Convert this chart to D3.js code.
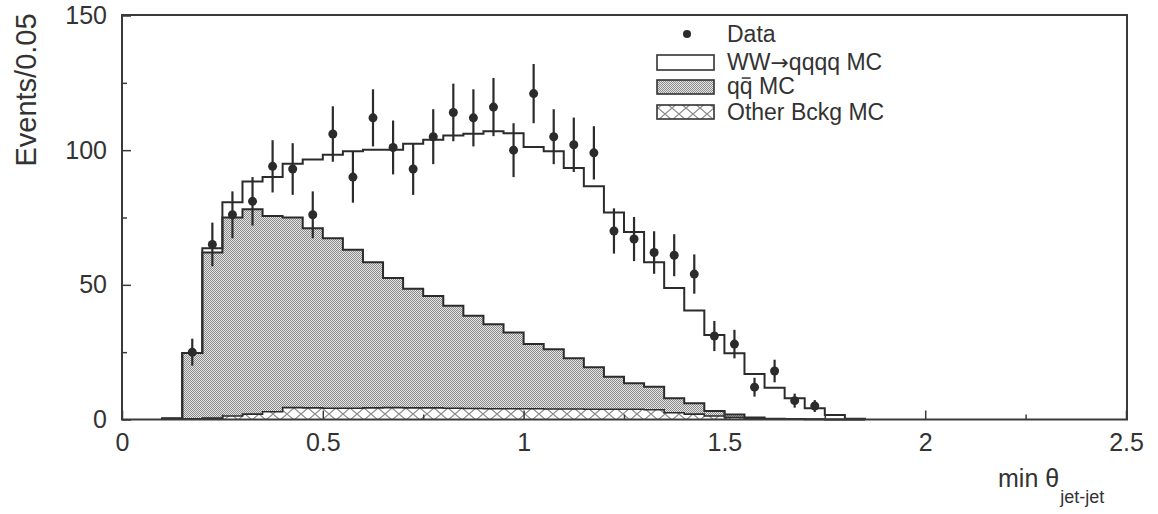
<!DOCTYPE html>
<html>
<head>
<meta charset="utf-8">
<script src="https://cdn.jsdelivr.net/npm/d3@7"></script>
<style>
  html, body { margin: 0; padding: 0; background: #fff; }
  svg { display: block; }
  text { font-family: "Liberation Sans", Arial, Helvetica, sans-serif; fill: #333; }
</style>
</head>
<body>
<svg id="chart" width="1158" height="514"></svg>
<script>
// ---- data ----
const binLow = [0.10,0.15,0.20,0.25,0.30,0.35,0.40,0.45,0.50,0.55,0.60,0.65,0.70,0.75,0.80,0.85,0.90,0.95,1.00,1.05,1.10,1.15,1.20,1.25,1.30,1.35,1.40,1.45,1.50,1.55,1.60,1.65,1.70,1.75,1.80];
const binWidth = 0.05;
const otherMC = [0.3,0.3,0.5,1.3,2.0,2.9,4.4,4.3,4.2,4.2,4.3,4.4,4.3,4.3,4.2,4.1,4.0,4.0,4.0,3.9,3.9,3.8,3.8,3.8,3.6,2.5,2.0,1.3,0.8,0.4,0.2,0.1,0.1,0,0];
const qqMC    = [0,24.4,61.5,73.7,76.1,72.7,70.6,66.7,63.1,58.8,54.1,48.1,44.2,41.6,38.0,34.4,31.4,28.3,24.0,22.2,18.8,15.6,12.1,9.7,8.6,5.4,4.0,1.9,1.1,0.3,0.1,0.1,0,0,0];
const wwMC    = [0.2,0,1.6,5.7,10.3,14.4,20,25.5,31,36.6,41.8,47.7,53.9,58,63.2,67.6,71.6,74,73.2,73.5,70.7,67.2,61,56.1,46.2,40.9,34.5,28.2,22.7,16.2,11.5,7.7,4.1,1.7,0.3];

const dataX   = [0.175,0.225,0.275,0.325,0.375,0.425,0.475,0.525,0.575,0.625,0.675,0.725,0.775,0.825,0.875,0.925,0.975,1.025,1.075,1.125,1.175,1.225,1.275,1.325,1.375,1.425,1.475,1.525,1.575,1.625,1.675,1.725];
const dataY   = [25,65,76,81,94,93,76,106,90,112,101,93,105,114,112,116,100,121,105,102,99,70,67,62,61,54,31,28,12,18,7,5];
const dataErr = [5.0,8.1,8.7,9.0,9.7,9.6,8.7,10.3,9.5,10.6,10.0,9.6,10.2,10.7,10.6,10.8,10.0,11.0,10.2,10.1,9.9,8.4,8.2,7.9,7.8,7.3,5.6,5.3,3.5,4.2,2.6,2.2];

const xMajorTicks = [0,0.5,1,1.5,2,2.5];
const xMinorTicks = [0.25,0.75,1.25,1.75,2.25];
const yMajorTicks = [0,50,100,150];
const yMinorTicks = [25,75,125];

const legendLabels = ["Data","WW\u2192qqqq MC","qq MC","Other Bckg MC"];

// ---- drawing ----
const svg = d3.select("#chart");
const x = d3.scaleLinear().domain([0,2.5]).range([122,1126]);
const y = d3.scaleLinear().domain([0,150]).range([419.5,15.5]);
const ink = "#2b2b2b";

const defs = svg.append("defs");
const pq = defs.append("pattern").attr("id","qqpat").attr("patternUnits","userSpaceOnUse")
  .attr("width",2).attr("height",2);
pq.append("rect").attr("width",2).attr("height",2).attr("fill","#e6e6e6");
pq.append("rect").attr("x",0).attr("y",0).attr("width",1).attr("height",1).attr("fill","#8a8a8a");
pq.append("rect").attr("x",1).attr("y",1).attr("width",1).attr("height",1).attr("fill","#8a8a8a");

const po = defs.append("pattern").attr("id","othpat").attr("patternUnits","userSpaceOnUse")
  .attr("width",14).attr("height",12);
po.append("rect").attr("width",14).attr("height",12).attr("fill","#fff");
po.append("path").attr("d","M0,0L14,12M0,12L14,0").attr("stroke","#8a8a8a").attr("stroke-width",1.2).attr("fill","none");

// stacked rows
const rows = binLow.map((lo,i)=>({lo, other:otherMC[i], qq:qqMC[i], ww:wwMC[i]}));
const stack = d3.stack().keys(["other","qq","ww"]);
const series = stack(rows);

function stepPts(s){
  const pts = s.map((d,i)=>({x:rows[i].lo, y0:d[0], y1:d[1]}));
  const last = pts[pts.length-1];
  pts.push({x:rows[rows.length-1].lo+binWidth, y0:last.y0, y1:last.y1});
  return pts;
}
const area = d3.area().curve(d3.curveStepAfter)
  .x(d=>x(d.x)).y0(d=>y(d.y0)).y1(d=>y(d.y1));
const line = d3.line().curve(d3.curveStepAfter).x(d=>x(d.x)).y(d=>y(d.v));

function outlinePts(s){
  const pts = [{x:rows[0].lo, v:0}];
  s.forEach((d,i)=>pts.push({x:rows[i].lo, v:d[1]}));
  const endX = rows[rows.length-1].lo+binWidth;
  pts.push({x:endX, v:0});
  return pts;
}

const g = svg.append("g");
g.append("path").datum(stepPts(series[1])).attr("d",area).attr("fill","url(#qqpat)");
g.append("path").datum(stepPts(series[0])).attr("d",area).attr("fill","url(#othpat)");

[series[0],series[1],series[2]].forEach((s,k)=>{
  g.append("path").datum(outlinePts(s)).attr("d",line)
    .attr("fill","none").attr("stroke",ink).attr("stroke-width", k===0?1.6:2);
});

// data points
const pg = svg.append("g");
dataX.forEach((dx,i)=>{
  pg.append("line").attr("x1",x(dx)).attr("x2",x(dx))
    .attr("y1",y(dataY[i]-dataErr[i])).attr("y2",y(dataY[i]+dataErr[i]))
    .attr("stroke",ink).attr("stroke-width",2.2);
  pg.append("circle").attr("cx",x(dx)).attr("cy",y(dataY[i])).attr("r",4.5).attr("fill",ink);
});

// frame
svg.append("rect").attr("x",122).attr("y",15).attr("width",1126-122+1).attr("height",419.5-15)
  .attr("fill","none").attr("stroke","#3a3a3a").attr("stroke-width",2);

// axes
const fmt = d=>d3.format("~g")(d);
svg.append("g").attr("transform","translate(0,419.5)")
  .call(d3.axisBottom(x).tickValues(xMajorTicks).tickSize(-9).tickPadding(14).tickFormat(fmt));
svg.append("g").attr("transform","translate(0,419.5)")
  .call(d3.axisBottom(x).tickValues(xMinorTicks).tickSize(-5).tickFormat(""));
svg.append("g").attr("transform","translate(122,0)")
  .call(d3.axisLeft(y).tickValues(yMajorTicks).tickSize(-9).tickPadding(15).tickFormat(fmt));
svg.append("g").attr("transform","translate(122,0)")
  .call(d3.axisLeft(y).tickValues(yMinorTicks).tickSize(-5).tickFormat(""));
svg.selectAll(".domain").remove();
svg.selectAll(".tick line").attr("stroke","#3a3a3a").attr("stroke-width",1.5);
svg.selectAll(".tick text").attr("font-size",25).attr("font-family","Liberation Sans, Arial, sans-serif").attr("fill","#333");

// axis titles
svg.append("text").attr("transform","translate(36,90) rotate(-90)")
  .attr("text-anchor","middle").attr("font-size",29).text("Events/0.05");
const xt = svg.append("text").attr("x",998).attr("y",487).attr("font-size",25);
xt.append("tspan").text("min \u03b8");
xt.append("tspan").attr("font-size",18).attr("dy",16).attr("dx",1).text("jet-jet");

// legend
const L = svg.append("g");
const lfs = 23;
L.append("circle").attr("cx",687).attr("cy",34).attr("r",4).attr("fill",ink);
L.append("rect").attr("x",657).attr("y",55).attr("width",57).attr("height",15).attr("fill","#fff").attr("stroke","#333").attr("stroke-width",1.6);
L.append("rect").attr("x",657).attr("y",80).attr("width",57).attr("height",14).attr("fill","url(#qqpat)").attr("stroke","#333").attr("stroke-width",1.6);
L.append("rect").attr("x",657).attr("y",105).attr("width",57).attr("height",14).attr("fill","url(#othpat)").attr("stroke","#333").attr("stroke-width",1.6);
const baselines = [42,70,94,120];
const lt = legendLabels.map((t,i)=>{
  const el = L.append("text").attr("x",727).attr("y",baselines[i]).attr("font-size",lfs);
  if (t.indexOf("\u2192")>=0){
    const parts = t.split("\u2192");
    el.append("tspan").text(parts[0]);
    el.append("tspan").attr("font-family","DejaVu Sans").attr("font-size",22).text("\u2192");
    el.append("tspan").text(parts[1]);
  } else el.text(t);
  return el;
});
const qqText = lt[2].node();
const p1 = qqText.getStartPositionOfChar(1), e1 = qqText.getEndPositionOfChar(1);
L.append("line").attr("x1",p1.x+2).attr("x2",e1.x-2).attr("y1",baselines[2]-lfs*0.52-4).attr("y2",baselines[2]-lfs*0.52-4)
  .attr("stroke","#333").attr("stroke-width",1.5);
</script>
</body>
</html>
